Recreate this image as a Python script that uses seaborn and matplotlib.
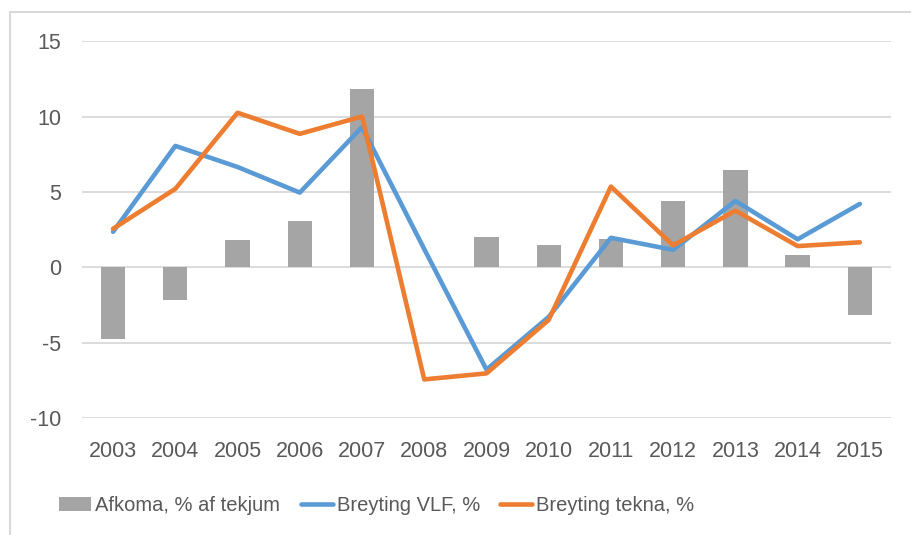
import pandas as pd
import numpy as np
import matplotlib.pyplot as plt
import seaborn as sns
from matplotlib.patches import Rectangle
from matplotlib.lines import Line2D
from matplotlib.patches import Patch

# --- DATA ---
years = ['2003', '2004', '2005', '2006', '2007', '2008', '2009',
         '2010', '2011', '2012', '2013', '2014', '2015']
afkoma = [-4.8, -2.2, 1.8, 3.05, 11.8, 0.0, 2.0, 1.5, 1.85, 4.4, 6.45, 0.8, -3.2]
breyting_vlf = [2.35, 8.05, 6.65, 4.95, 9.3, 1.2, -6.8, -3.3, 1.95, 1.15, 4.4, 1.85, 4.2]
breyting_tekna = [2.55, 5.2, 10.25, 8.85, 10.0, -7.45, -7.05, -3.5, 5.35, 1.45, 3.75, 1.4, 1.65]

labels = ['Afkoma, % af tekjum', 'Breyting VLF, %', 'Breyting tekna, %']

GREY = '#a5a5a5'
BLUE = '#5b9bd5'
ORANGE = '#ed7d31'
TEXT = '#595959'
GRID = '#d9d9d9'

df = pd.DataFrame({'Ar': years, 'Afkoma': afkoma,
                   'VLF': breyting_vlf, 'Tekna': breyting_tekna})

sns.set_theme(style='white')
plt.rcParams['font.family'] = ['Liberation Sans', 'DejaVu Sans']

fig = plt.figure(figsize=(9.11, 5.35), dpi=100)
ax = fig.add_axes([0.09, 0.219, 0.888, 0.704])

# Bars
sns.barplot(data=df, x='Ar', y='Afkoma', color=GREY, width=0.39,
            saturation=1, linewidth=0, ax=ax, zorder=2)

# Lines
sns.lineplot(data=df, x='Ar', y='VLF', color=BLUE, linewidth=3.3,
             sort=False, ax=ax, zorder=3)
sns.lineplot(data=df, x='Ar', y='Tekna', color=ORANGE, linewidth=3.3,
             sort=False, ax=ax, zorder=4)

ax.set_xlim(-0.5, 12.5)
ax.set_ylim(-10, 15)
ax.set_yticks([-10, -5, 0, 5, 10, 15])
ax.set_yticklabels(['-10', '-5', '0', '5', '10', '15'])
ax.yaxis.grid(True, color=GRID, linewidth=1.3, zorder=0)
ax.set_axisbelow(True)
ax.set_xlabel('')
ax.set_ylabel('')
for s in ax.spines.values():
    s.set_visible(False)
ax.tick_params(axis='both', length=0, labelsize=15.5, colors=TEXT)
ax.tick_params(axis='x', pad=17)
ax.tick_params(axis='y', pad=15)

# Chart frame (cropped at right and bottom in the reference)
fig.patches.append(Rectangle((10 / 911, -0.1), 1.2, 1 - 12 / 535 + 0.1,
                             transform=fig.transFigure, fill=False,
                             edgecolor=GRID, linewidth=1.5))

# Legend
handles = [Patch(facecolor=GREY, edgecolor='none'),
           Line2D([0], [0], color=BLUE, linewidth=3.3),
           Line2D([0], [0], color=ORANGE, linewidth=3.3)]
leg = fig.legend(handles, labels, loc='center left',
                 bbox_to_anchor=(0.045, 0.055), ncol=3, frameon=False,
                 fontsize=14.5, handlelength=1.6, handletextpad=0.2,
                 columnspacing=1.0, labelcolor=TEXT)

fig.savefig('out.png', dpi=100)
